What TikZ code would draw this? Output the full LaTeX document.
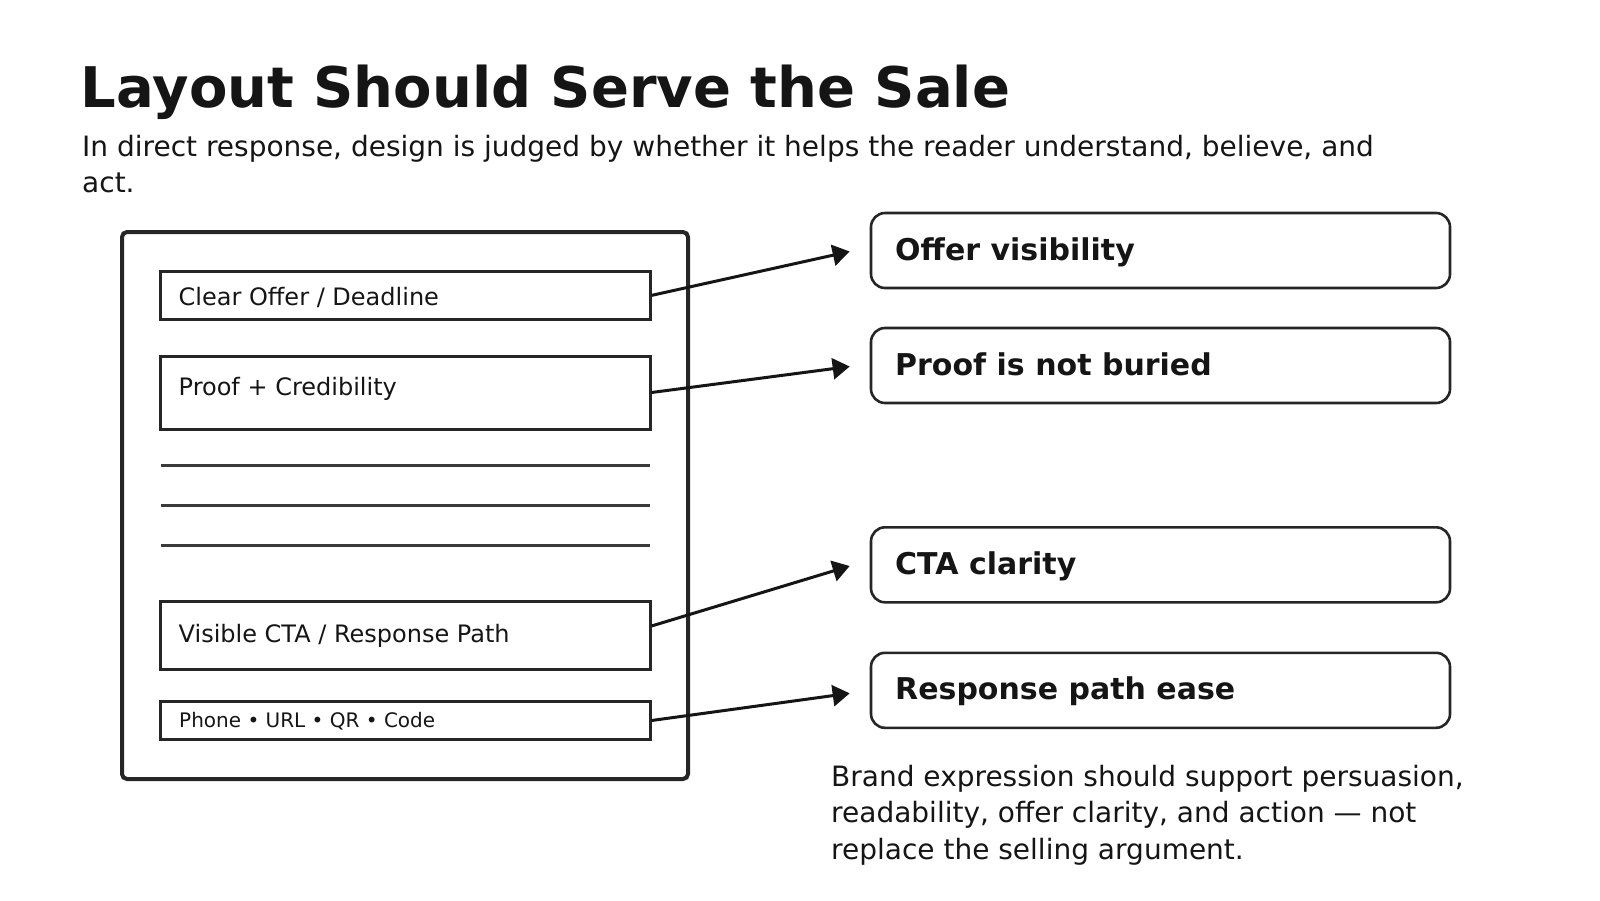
\documentclass[tikz,border=0pt]{standalone}
\usepackage{fontspec}
\setmainfont{DejaVu Sans}
\usetikzlibrary{arrows.meta}
\definecolor{ink}{HTML}{151515}
\definecolor{stroke}{HTML}{262626}
\definecolor{rule}{HTML}{3A3A3A}
\tikzset{
  txt/.style={inner sep=0pt, anchor=base west, text=ink},
  frame/.style={draw=stroke, line width=4pt, rounded corners=5pt, minimum width=566pt, minimum height=547pt, inner sep=0pt},
  lbox/.style={draw=stroke, line width=3pt, minimum width=489.5pt, inner sep=0pt},
  rbox/.style={draw=stroke, line width=2.6pt, rounded corners=14pt, minimum width=579pt, minimum height=75pt, inner sep=0pt},
  ruleline/.style={draw=rule, line width=2.6pt},
  conn/.style={draw=ink, line width=3pt, -{Triangle[length=17pt,width=21pt]}},
}
\begin{document}
\begin{tikzpicture}[x=1pt,y=-1pt]
\useasboundingbox (0,0) rectangle (1600,900);
% title and subtitle
\node[txt, font=\fontsize{56}{60}\selectfont\bfseries] (title) at (80.5,107) {Layout Should Serve the Sale};
\node[txt, font=\fontsize{28}{34}\selectfont] (sub1) at (82,156) {In direct response, design is judged by whether it helps the reader understand, believe, and};
\node[txt, font=\fontsize{28}{34}\selectfont] (sub2) at (82,192.5) {act.};
% page mock-up
\node[frame] (page) at (405,505.5) {};
\node[lbox, minimum height=48pt] (b1) at (405.25,295.4) {};
\node[lbox, minimum height=73pt] (b2) at (405.25,392.5) {};
\node[lbox, minimum height=67.6pt] (b3) at (405.25,635.5) {};
\node[lbox, minimum height=37.6pt] (b4) at (405.25,720.5) {};
\node[txt, font=\fontsize{24}{28}\selectfont] (t1) at (178.5,305.5) {Clear Offer / Deadline};
\node[txt, font=\fontsize{24}{28}\selectfont] (t2) at (178.5,395.5) {Proof + Credibility};
\node[txt, font=\fontsize{24}{28}\selectfont] (t3) at (178.5,642) {Visible CTA / Response Path};
\node[txt, font=\fontsize{20}{24}\selectfont] (t4) at (179,727.5) {Phone • URL • QR • Code};
\path[ruleline] (160.5,465.3) -- (650,465.3);
\path[ruleline] (160.5,505.3) -- (650,505.3);
\path[ruleline] (160.5,545.3) -- (650,545.3);
% right boxes
\node[rbox] (ra) at (1160.5,250.5) {};
\node[rbox] (rb) at (1160.5,365.5) {};
\node[rbox] (rc) at (1160.5,564.8) {};
\node[rbox] (rd) at (1160.5,690.3) {};
\node[txt, font=\fontsize{30}{34}\selectfont\bfseries] (ta) at (895,260) {Offer visibility};
\node[txt, font=\fontsize{30}{34}\selectfont\bfseries] (tb) at (895,375) {Proof is not buried};
\node[txt, font=\fontsize{30}{34}\selectfont\bfseries] (tc) at (895,574) {CTA clarity};
\node[txt, font=\fontsize{30}{34}\selectfont\bfseries] (td) at (895,699.7) {Response path ease};
% connectors
\draw[conn] (b1.east) -- ([xshift=-20pt,yshift=-1pt]ra.west);
\draw[conn] (b2.east) -- ([xshift=-20pt,yshift=-1pt]rb.west);
\draw[conn] ([yshift=9.5pt]b3.east) -- ([xshift=-20pt,yshift=-1.2pt]rc.west);
\draw[conn] (b4.east) -- ([xshift=-20pt,yshift=-3pt]rd.west);
% note
\node[txt, font=\fontsize{28}{34}\selectfont] (n1) at (831,786) {Brand expression should support persuasion,};
\node[txt, font=\fontsize{28}{34}\selectfont] (n2) at (831,822.5) {readability, offer clarity, and action — not};
\node[txt, font=\fontsize{28}{34}\selectfont] (n3) at (831,859) {replace the selling argument.};
\end{tikzpicture}
\end{document}
